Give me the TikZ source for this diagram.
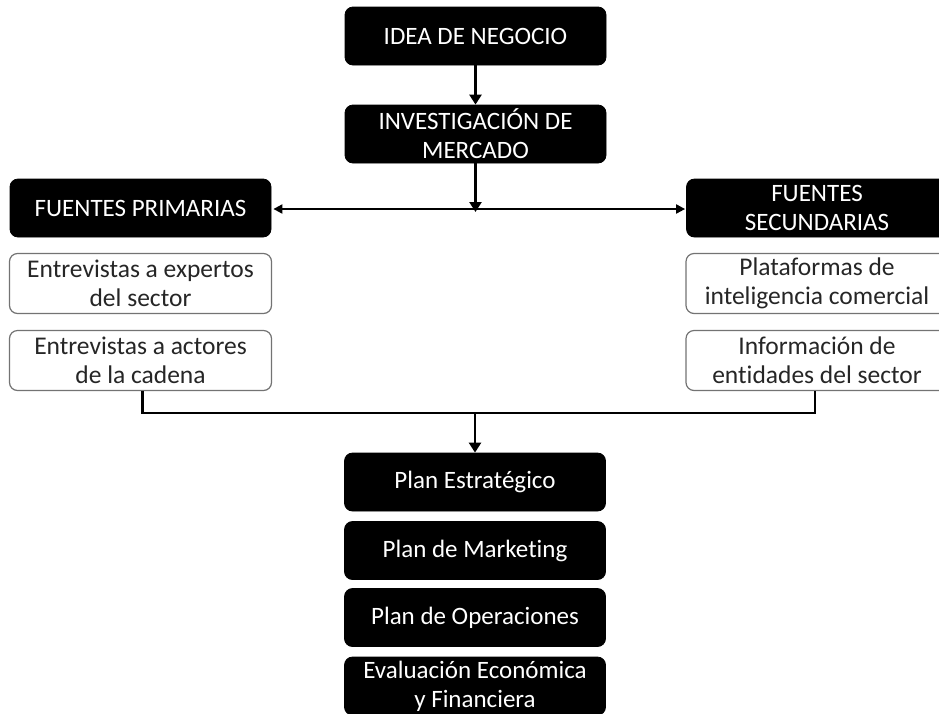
\documentclass[tikz,border=0pt]{standalone}
\usepackage{fontspec}
\setmainfont{Carlito}[Ligatures=CommonOff]
\usetikzlibrary{arrows.meta}
\begin{document}
\begin{tikzpicture}[x=1pt,y=-1pt,
  blk/.style={draw=black,fill=black,text=white,rounded corners=8pt,line width=0.8pt,
     minimum width=261pt,minimum height=58pt,align=center,inner sep=0pt,
     font=\fontsize{25}{29}\selectfont},
  wht/.style={draw=black!55,fill=white,text=black!85,rounded corners=8pt,line width=1.2pt,
     minimum width=262pt,minimum height=60pt,align=center,inner sep=0pt,
     font=\fontsize{25.5}{29}\selectfont},
  arr/.style={line width=2.4pt,-{Triangle[width=12pt,length=10pt]}},
  darr/.style={line width=2pt,{Triangle[width=9pt,length=9pt]}-{Triangle[width=9pt,length=9pt]}},
  ln/.style={line width=2.4pt}]
\useasboundingbox (0,0) rectangle (939,713);
\clip (0,0) rectangle (939,713);
\node[blk] (idea) at (475.5,36) {IDEA DE NEGOCIO};
\node[blk] (inv) at (475.5,134) {INVESTIGACIÓN DE\\MERCADO};
\node[blk] (fp) at (140.5,208) {FUENTES PRIMARIAS};
\node[blk] (fs) at (817,208) {FUENTES\\SECUNDARIAS};
\node[wht] (e1) at (140.5,283.5) {Entrevistas a expertos\\del sector};
\node[wht] (e2) at (140.5,360.5) {Entrevistas a actores\\de la cadena};
\node[wht] (p1) at (817,283.5) {Plataformas de\\inteligencia comercial};
\node[wht] (p2) at (817,360.5) {Información de\\entidades del sector};
\node[blk] (ps) at (475,482) {Plan Estratégico};
\node[blk] (pm) at (475,550.5) {Plan de Marketing};
\node[blk] (po) at (475,617.5) {Plan de Operaciones};
\node[blk] (ev) at (475,686) {Evaluación Económica\\y Financiera};
\draw[arr] (idea.south) -- (inv.north);
\path (fp.east) ++(2,1) coordinate (l1) (fs.west) ++(-1,1) coordinate (r1);
\draw[darr] (l1) -- (r1);
\coordinate (m1) at (inv.south |- l1);
\draw[arr] (inv.south) -- ([yshift=-3pt]m1);
\coordinate (bl) at ([xshift=2pt]e2.south);
\coordinate (br) at ([xshift=-2pt]p2.south);
\coordinate (bm) at (475,413);
\draw[ln] (bl) |- (bm) -| (br);
\draw[arr] (bm) -- (ps.north);
\end{tikzpicture}
\end{document}
